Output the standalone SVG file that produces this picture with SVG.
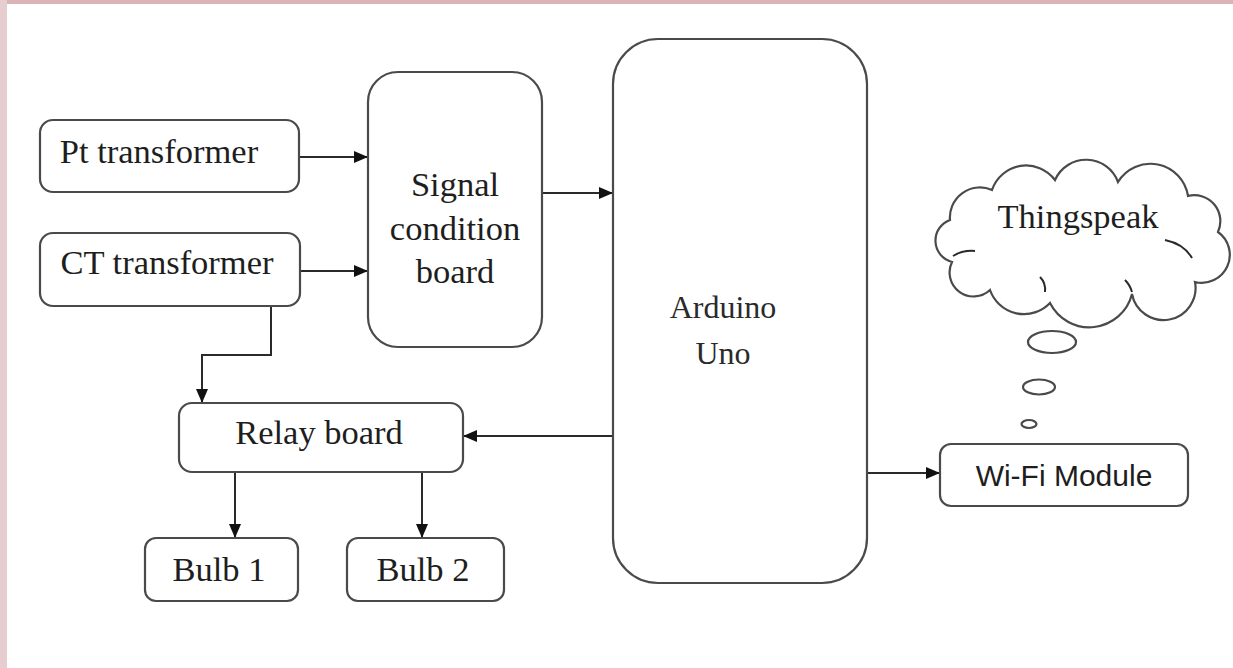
<svg xmlns="http://www.w3.org/2000/svg" width="1233" height="668" viewBox="0 0 1233 668">
<defs>
<style>
.box{fill:#fff;stroke:#4a4a4a;stroke-width:2.2}
.t{font-family:"Liberation Serif","DejaVu Serif",serif;font-size:34.5px;fill:#1e1e1e;text-anchor:middle}
.a{font-family:"Liberation Serif","DejaVu Serif",serif;font-size:32px;fill:#2a2a2a;text-anchor:middle}
.s{font-family:"Liberation Sans","Open Sans",sans-serif;font-size:30px;fill:#1e1e1e;text-anchor:middle}
.c{fill:none;stroke:#2a2a2a;stroke-width:2}
</style>
<marker id="ah" markerWidth="14" markerHeight="12" refX="14" refY="6" orient="auto" markerUnits="userSpaceOnUse">
<path d="M0,0 L14,6 L0,12 Z" fill="#111"/>
</marker>
</defs>
<rect width="1233" height="668" fill="#fff"/>
<rect x="0" y="0" width="1233" height="4" fill="#d9b4b6"/>
<rect x="0" y="0" width="7" height="668" fill="#e6cdd0"/>

<g id="connectors">
<path class="c" d="M300,157 H368" marker-end="url(#ah)"/>
<path class="c" d="M300,271 H368" marker-end="url(#ah)"/>
<path class="c" d="M542,193 H613" marker-end="url(#ah)"/>
<path class="c" d="M271,306 V355 H202 V403" marker-end="url(#ah)"/>
<path class="c" d="M613,436 H463" marker-end="url(#ah)"/>
<path class="c" d="M235,472 V538" marker-end="url(#ah)"/>
<path class="c" d="M422,472 V538" marker-end="url(#ah)"/>
<path class="c" d="M867,473 H940" marker-end="url(#ah)"/>
</g>

<g id="pt">
<rect class="box" x="40" y="120" width="259" height="72" rx="13"/>
<text class="t" x="159" y="163">Pt transformer</text>
</g>
<g id="ct">
<rect class="box" x="40" y="233" width="260" height="73" rx="13"/>
<text class="t" x="167" y="274">CT transformer</text>
</g>
<g id="scb">
<rect class="box" x="368" y="72" width="174" height="275" rx="30"/>
<text class="t" x="455" y="196">Signal</text>
<text class="t" x="455" y="240">condition</text>
<text class="t" x="455" y="283">board</text>
</g>
<g id="arduino">
<rect class="box" x="613" y="39" width="254" height="544" rx="45"/>
<text class="a" x="723" y="318">Arduino</text>
<text class="a" x="723" y="364">Uno</text>
</g>
<g id="relay">
<rect class="box" x="179" y="403" width="284" height="69" rx="13"/>
<text class="t" x="319" y="444">Relay board</text>
</g>
<g id="bulb1">
<rect class="box" x="145" y="538" width="153" height="63" rx="11"/>
<text class="t" x="219" y="581">Bulb 1</text>
</g>
<g id="bulb2">
<rect class="box" x="347" y="538" width="157" height="63" rx="11"/>
<text class="t" x="423" y="581">Bulb 2</text>
</g>
<g id="wifi">
<rect class="box" x="940" y="444" width="248" height="62" rx="11"/>
<text class="s" x="1064" y="486">Wi-Fi Module</text>
</g>
<g id="thingspeak">
<path class="box" d="M952,262 A22,22 0 0 1 950,220 A30,30 0 0 1 992,190 A36,36 0 0 1 1055,180 A34,34 0 0 1 1118,182 A38,38 0 0 1 1188,196 A26,26 0 0 1 1218,232 A28,28 0 0 1 1195,282 A32,32 0 0 1 1132,294 A44,44 0 0 1 1050,303 A36,36 0 0 1 990,290 A24,24 0 0 1 952,262 Z"/>
<path class="c" d="M953,256 Q963,250 975,251"/>
<path class="c" d="M1165,240 Q1184,244 1192,258"/>
<path class="c" d="M1045,292 Q1046,283 1040,277"/>
<path class="c" d="M1132,292 Q1130,285 1125,280"/>
<text class="t" x="1078" y="228">Thingspeak</text>
<ellipse class="box" cx="1052" cy="342" rx="24" ry="11"/>
<ellipse class="box" cx="1039" cy="387" rx="16" ry="7.5"/>
<ellipse class="box" cx="1029" cy="424" rx="7.5" ry="4"/>
</g>
</svg>
